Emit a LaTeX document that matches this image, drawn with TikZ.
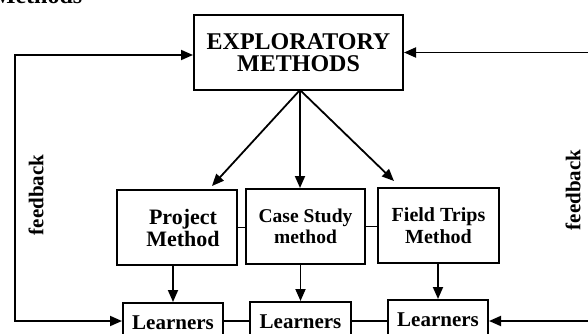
\documentclass[tikz,border=0pt]{standalone}
\usepackage{fontspec}
\setmainfont{Liberation Serif}
\usetikzlibrary{arrows.meta}
\begin{document}
\begin{tikzpicture}[x=1pt,y=-1pt,
  line width=1.8pt,
  tip/.style={-{Triangle[length=12pt,width=10pt]}},
  box/.style={draw,line width=2pt,inner sep=0pt,align=center,font=\bfseries},
  fbtext/.style={rotate=90,font=\bfseries\fontsize{21}{22}\selectfont,inner sep=0pt}]
\useasboundingbox (0,0) rectangle (588,334);
\clip (0,0) rectangle (588,334);
% partial heading at the top
\node[anchor=base west,font=\bfseries\fontsize{24}{24}\selectfont,inner sep=0pt] (head) at (-8,4) {Methods};
% main box
\node[box,minimum width=209pt,minimum height=75pt,font=\bfseries\fontsize{24}{22}\selectfont] (top) at (298.5,52.5) {EXPLORATORY\\METHODS};
% method boxes
\node[box,minimum width=120pt,minimum height=75pt,font=\bfseries\fontsize{22}{22}\selectfont] (proj) at (177,227.5) {\hspace*{12pt}Project\\\hspace*{12pt}Method};
\node[box,minimum width=119pt,minimum height=75pt,font=\bfseries\fontsize{19.5}{21}\selectfont] (case) at (305.5,226.5) {Case Study\\method};
\node[box,minimum width=121pt,minimum height=75pt,font=\bfseries\fontsize{20}{22}\selectfont] (field) at (438.5,225.5) {Field Trips\\Method};
% learners boxes
\node[box,minimum width=100pt,minimum height=44pt,font=\bfseries\fontsize{21}{22}\selectfont] (l1) at (173,325) {\raisebox{5pt}{Learners}};
\node[box,minimum width=101pt,minimum height=44pt,font=\bfseries\fontsize{21}{22}\selectfont] (l2) at (300.5,324) {\raisebox{5pt}{Learners}};
\node[box,minimum width=100pt,minimum height=44pt,font=\bfseries\fontsize{21}{22}\selectfont] (l3) at (438,322) {\raisebox{5pt}{Learners}};
% feedback labels
\node[fbtext] (fbl) at (36,195) {feedback};
\node[fbtext] (fbr) at (573,190) {feedback};
% arrows from the main box
\coordinate (src) at (300,90);
\draw[tip] (src) -- (212,186);
\draw[tip] (src) -- (src |- case.north);
\draw[tip] (src) -- (394,181);
% links between method boxes
\draw (proj.east) -- (proj.east -| case.west);
\draw (case.east) -- (case.east -| field.west);
% arrows down to learners
\draw[tip] (proj.south -| l1.north) -- (l1.north);
\draw[tip] (case.south -| l2.north) -- (l2.north);
\draw[tip] (field.south -| l3.north) -- (l3.north);
% links between learners
\coordinate (ly) at (0,321);
\draw (l1.east |- ly) -- (l2.west |- ly);
\draw (l2.east |- ly) -- (l3.west |- ly);
% feedback loops
\coordinate (fa) at (15,55);
\coordinate (fb) at (15,321);
\draw[{Triangle[length=12pt,width=10pt]}-{Triangle[length=12pt,width=10pt]}] (top.west |- fa) -- (fa) -- (fb) -- (l1.west |- fb);
\coordinate (fc) at (600,52.5);
\coordinate (fd) at (600,321);
\draw[{Triangle[length=12pt,width=10pt]}-{Triangle[length=12pt,width=10pt]}] (top.east |- fc) -- (fc) -- (fd) -- (l3.east |- fd);
\end{tikzpicture}
\end{document}
